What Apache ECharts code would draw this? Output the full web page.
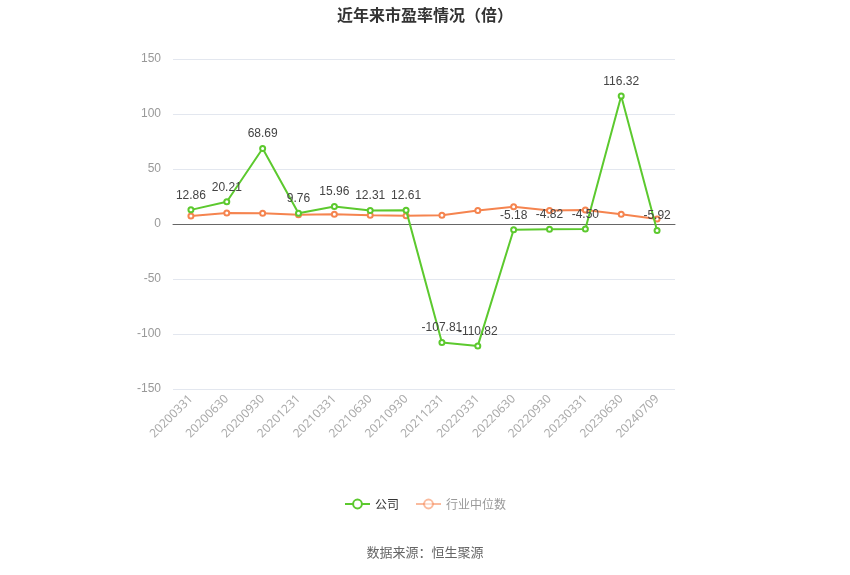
<!DOCTYPE html>
<html><head><meta charset="utf-8">
<script src="https://cdn.jsdelivr.net/npm/echarts@6/dist/echarts.min.js"></script>
<style>html,body{margin:0;padding:0;background:#fff}#c{width:850px;height:575px}</style>
</head><body><div id="c"></div>
<script>
const categories = ['20200331','20200630','20200930','20201231','20210331','20210630','20210930','20211231','20220331','20220630','20220930','20230331','20230630','20240709'];
const companyPE = [12.86,20.21,68.69,9.76,15.96,12.31,12.61,-107.81,-110.82,-5.18,-4.82,-4.50,116.32,-5.92];
const industryPE = [7.3,10.1,9.8,8.3,8.9,8.0,7.6,7.9,12.2,15.6,12.2,12.8,8.9,4.6];
const yTicks = {min:-150, max:150, interval:50};

const chart = echarts.init(document.getElementById('c'));
chart.setOption({
  animation:false,
  title:{text:'近年来市盈率情况（倍）', left:'center', top:2, textStyle:{fontSize:16, fontWeight:'bold', color:'#333', fontFamily:'Noto Sans CJK SC'}},
  legend:{bottom:60, left:'center', itemWidth:25, itemHeight:11, itemGap:16, textStyle:{fontSize:12, fontFamily:'Noto Sans CJK SC'},
    data:[{name:'公司', textStyle:{color:'#333'}},{name:'行业中位数', textStyle:{color:'#999'}, itemStyle:{opacity:0.55}, lineStyle:{opacity:0.55}}]},
  graphic:[{type:'text', left:'center', top:546, style:{text:'数据来源：恒生聚源', fontSize:13, fill:'#666', fontFamily:'Noto Sans CJK SC'}}],
  grid:{left:173, right:175, top:59, bottom:186},
  xAxis:{type:'category', data:categories, boundaryGap:true,
    axisLine:{lineStyle:{color:'#666'}}, axisTick:{alignWithLabel:true, lineStyle:{color:'#999'}},
    axisLabel:{rotate:45, color:'#aaa', fontSize:12, interval:0, fontFamily:'Microsoft YaHei, Noto Sans'}},
  yAxis:{type:'value', min:yTicks.min, max:yTicks.max, interval:yTicks.interval,
    axisLine:{show:false}, axisTick:{show:false},
    axisLabel:{color:'#999', fontSize:12, margin:12},
    splitLine:{lineStyle:{color:'#e3e7ef'}}},
  series:[
    {name:'公司', type:'line', data:companyPE, symbol:'emptyCircle', symbolSize:5,
     itemStyle:{color:'#5cc92e'}, lineStyle:{width:2, color:'#5cc92e'},
     label:{show:true, position:'top', color:'#444', fontSize:12, formatter:p=>p.value.toFixed(2)}, z:3},
    {name:'行业中位数', type:'line', data:industryPE, symbol:'emptyCircle', symbolSize:5,
     itemStyle:{color:'#f5844f'}, lineStyle:{width:2, color:'#f5844f'}, z:2}
  ]
});
</script></body></html>
